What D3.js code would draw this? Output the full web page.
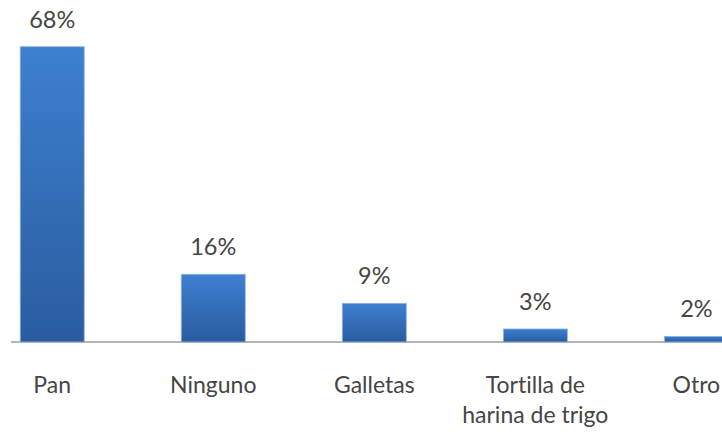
<!DOCTYPE html>
<html>
<head>
<meta charset="utf-8">
<script src="https://cdn.jsdelivr.net/npm/d3@7"></script>
<style>
  html, body { margin: 0; padding: 0; background: #fff; }
  svg { display: block; }
  text { font-variant-ligatures: none; font-feature-settings: "liga" 0; }
</style>
</head>
<body>
<svg id="chart" width="722" height="432"></svg>
<script>
const categories = ["Pan", "Ninguno", "Galletas", "Tortilla de\nharina de trigo", "Otro"];
const values = [68, 15.6, 8.9, 3.0, 1.3];
const valueLabels = ["68%", "16%", "9%", "3%", "2%"];

const W = 722, H = 432;
const svg = d3.select("#chart");

const defs = svg.append("defs");
const grad = defs.append("linearGradient").attr("id", "barGrad")
  .attr("x1", 0).attr("y1", 0).attr("x2", 0).attr("y2", 1);
grad.append("stop").attr("offset", "0%").attr("stop-color", "#3d80d1");
grad.append("stop").attr("offset", "100%").attr("stop-color", "#2a5c9e");

const x = d3.scaleBand()
  .domain(categories)
  .range([-28.3, 776.9])
  .paddingInner(0.6025)
  .paddingOuter(0.30125);

const y = d3.scaleLinear()
  .domain([0, 68])
  .range([342, 46.7]);

// axis baseline
svg.append("line")
  .attr("x1", 11).attr("x2", W)
  .attr("y1", y(0)).attr("y2", y(0))
  .attr("stroke", "#b4b4b4").attr("stroke-width", 2);

const g = svg.append("g");
g.selectAll("rect.bar")
  .data(categories)
  .join("rect")
  .attr("class", "bar")
  .attr("x", d => x(d))
  .attr("width", x.bandwidth())
  .attr("y", (d, i) => y(values[i]))
  .attr("height", (d, i) => y(0) - y(values[i]))
  .attr("fill", "url(#barGrad)")
  .attr("stroke", "#8fb6e4")
  .attr("stroke-width", 0.8);

const font = "Lato, 'Open Sans', sans-serif";

g.selectAll("text.val")
  .data(categories)
  .join("text")
  .attr("class", "val")
  .attr("x", d => x(d) + x.bandwidth() / 2)
  .attr("y", (d, i) => y(values[i]) - 19)
  .attr("text-anchor", "middle")
  .attr("font-family", font)
  .attr("font-size", 23.5)
  .attr("fill", "#454545")
  .text((d, i) => valueLabels[i]);

const cat = g.selectAll("text.cat")
  .data(categories)
  .join("text")
  .attr("class", "cat")
  .attr("x", d => x(d) + x.bandwidth() / 2)
  .attr("y", 393)
  .attr("text-anchor", "middle")
  .attr("font-family", font)
  .attr("font-size", 23)
  .attr("fill", "#454545");
cat.each(function(d) {
  const lines = d.split("\n");
  const t = d3.select(this);
  lines.forEach((ln, k) => {
    t.append("tspan")
      .attr("x", x(d) + x.bandwidth() / 2)
      .attr("dy", k === 0 ? 0 : 30)
      .text(ln);
  });
});
</script>
</body>
</html>
